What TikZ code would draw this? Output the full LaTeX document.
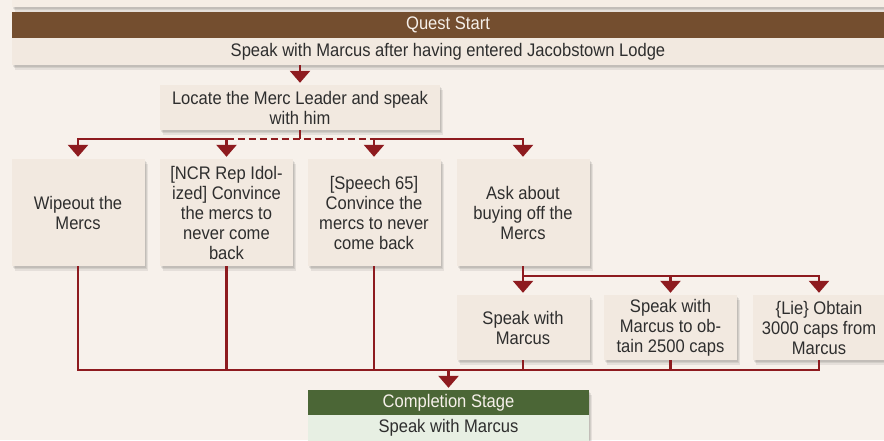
\documentclass[tikz,border=0pt]{standalone}
\usepackage{fontspec}
\setmainfont{Liberation Sans}[FakeStretch=0.91]
\usetikzlibrary{arrows.meta,shadows}
\definecolor{bgc}{HTML}{F7F1EB}
\definecolor{panelc}{HTML}{F5EDE5}
\definecolor{boxc}{HTML}{F2E9E0}
\definecolor{brownc}{HTML}{744E2F}
\definecolor{redc}{HTML}{8E1B1F}
\definecolor{greenc}{HTML}{4B6636}
\definecolor{greenl}{HTML}{E7EFE3}
\definecolor{txt}{HTML}{2E2E2E}
\definecolor{headtxt}{HTML}{F6F0EA}
\begin{document}
\begin{tikzpicture}[x=1pt,y=-1pt,
  softshadow/.style={
    general shadow={fill=black,opacity=.08,shadow xshift=1pt,shadow yshift=-1.5pt},
    general shadow={fill=black,opacity=.08,shadow xshift=2pt,shadow yshift=-3pt},
    general shadow={fill=black,opacity=.07,shadow xshift=3pt,shadow yshift=-5pt}},
  basefont/.style={font=\fontsize{18.2}{20}\selectfont},
  stepbox/.style={softshadow, fill=boxc, inner sep=0pt, align=center, text=txt, basefont},
  headbar/.style={inner sep=0pt, align=center, text=headtxt, basefont},
  rowbar/.style={inner sep=0pt, align=center, text=txt, basefont},
  conn/.style={draw=redc, line width=2.6pt},
  arr/.style={conn, -{Triangle[width=20pt,length=12pt]}, shorten >=2pt},
  wide/.style={minimum width=133pt, minimum height=107pt},
  low/.style={minimum width=133pt, minimum height=65pt}
]
\useasboundingbox (0,0) rectangle (884,440);
\fill[bgc] (0,0) rectangle (884,440);
% top panel
\path[fill=panelc, softshadow] (12,-12) rectangle (900,7);

% quest start
\node[headbar, softshadow, fill=brownc, minimum width=872pt, minimum height=26pt] (qhead) at (448,25) {Quest Start};
\node[rowbar, softshadow, fill=boxc, minimum width=872pt, minimum height=27pt] (qrow) at (448,51.5) {Speak with Marcus after having entered Jacobstown Lodge};

\node[stepbox, minimum width=280pt, minimum height=45pt] (locate) at (300,107.5) {Locate the Merc Leader and speak\\with him};

\node[stepbox, wide] (wipe) at (78,212.5) {Wipeout the\\Mercs};
\node[stepbox, wide] (ncr) at (226.5,212.5) {[NCR Rep Idol-\\ized] Convince\\the mercs to\\never come\\back};
\node[stepbox, wide] (speech) at (374,212.5) {[Speech 65]\\Convince the\\mercs to never\\come back};
\node[stepbox, wide] (ask) at (523,212.5) {Ask about\\buying off the\\Mercs};

\node[stepbox, low] (smm) at (523,327.5) {Speak with\\Marcus};
\node[stepbox, low] (obtain) at (670.5,327.5) {Speak with\\Marcus to ob-\\tain 2500 caps};
\node[stepbox, low] (lie) at (819,327.5) {\{Lie\} Obtain\\3000 caps from\\Marcus};

\node[headbar, softshadow, fill=greenc, minimum width=281pt, minimum height=25pt] (chead) at (448.5,402.5) {Completion Stage};
\node[rowbar, softshadow, fill=greenl, minimum width=281pt, minimum height=26pt] (crow) at (448.5,428) {Speak with Marcus};

% connectors
\coordinate (j1) at (300,139);
\coordinate (j2) at (523,276);
\coordinate (j3) at (448.5,370);

\draw[arr] (qrow.south -| locate.north) -- (locate.north);
\draw[conn] (locate.south) -- (j1);
\draw[arr] (ncr.north |- j1) -| (wipe.north);
\draw[conn, dash pattern=on 7pt off 4pt] (ncr.north |- j1) -- (speech.north |- j1);
\draw[arr] (speech.north |- j1) -| (ask.north);
\draw[arr] (ncr.north |- j1) -- (ncr.north);
\draw[arr] (speech.north |- j1) -- (speech.north);

\draw[arr] (ask.south) -- (smm.north);
\draw[arr] (ask.south |- j2) -| (lie.north);
\draw[arr] (obtain.north |- j2) -- (obtain.north);

\draw[conn] (wipe.south) |- (lie.south |- j3) -- (lie.south);
\draw[conn] (ncr.south) -- (ncr.south |- j3);
\draw[conn] (speech.south) -- (speech.south |- j3);
\draw[conn] (smm.south) -- (smm.south |- j3);
\draw[conn] (obtain.south) -- (obtain.south |- j3);
\draw[arr] (j3) -- (chead.north);
\end{tikzpicture}
\end{document}
